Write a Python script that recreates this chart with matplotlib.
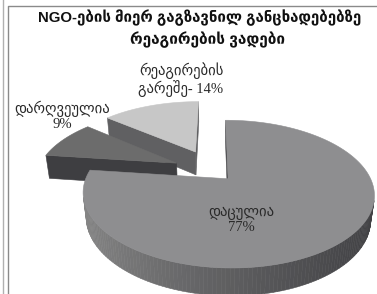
import math
import numpy as np
import matplotlib
matplotlib.use("Agg")
import matplotlib.pyplot as plt
from matplotlib.patches import Polygon

# --- data ---------------------------------------------------------------
labels = ["დაცულია", "დარღვეულია", "რეაგირების\nგარეშე"]
values = [77, 9, 14]
explode = [0.15, 0.30, 0.33]

TITLE_1 = "NGO-ების მიერ გაგზავნილ განცხადებებზე"
TITLE_2 = "რეაგირების ვადები"

# --- look ---------------------------------------------------------------
top_col = ["#8e8e90", "#6c6c6c", "#c7c7c7"]
cut_col = ["#4a4a4d", "#3e3e41", "#606062"]
side_light = ["#888888", "#4a4a4a", "#7a7a7a"]
side_dark = ["#414144", "#3a3a3a", "#5a5a5a"]

W, H = 377, 294
OX, OY = 214.0, 171.0          # screen position of pie centre (px)
F, D = 600.0, 4.31             # focal length, camera distance
EL = math.radians(29)
SA, CA = math.sin(EL), math.cos(EL)
DEPTH = 0.2
CAM = np.array([0.0, -D * CA, D * SA])


def proj(u, v, z):
    d = D + v * CA - z * SA
    return OX + F * u / d, OY - F * (v * SA + z * CA) / d


def hexmix(c1, c2, t):
    a = np.array(matplotlib.colors.to_rgb(c1))
    b = np.array(matplotlib.colors.to_rgb(c2))
    return tuple(a * (1 - t) + b * t)


def visible(p, n):
    return float(np.dot(CAM - np.array(p), np.array(n))) > 0


fig = plt.figure(figsize=(W / 100, H / 100), dpi=100)
ax = fig.add_axes([0, 0, 1, 1])
ax.set_xlim(0, W)
ax.set_ylim(H, 0)
ax.axis("off")

# frame
ax.plot([2.5, 2.5], [0, H], color="#b0b0b0", lw=1.0)
ax.plot([7.5, 7.5, W], [H, 5.5, 5.5], color="#8a8a8a", lw=1.0)

# slice geometry
total = float(sum(values))
slices = []
start = 90.0
for i, val in enumerate(values):
    sweep = val / total * 360.0
    t1, t2 = start, start - sweep
    mid = math.radians((t1 + t2) / 2)
    ou, ov = explode[i] * math.cos(mid), explode[i] * math.sin(mid)
    slices.append((i, math.radians(t1), math.radians(t2), ou, ov))
    start = t2

for i, t1, t2, ou, ov in sorted(slices, key=lambda s: -s[4]):
    faces = []
    ts = np.linspace(t1, t2, max(8, int(abs(t2 - t1) * 40)))
    # outer wall
    for a0, a1 in zip(ts[:-1], ts[1:]):
        am = (a0 + a1) / 2
        pm = (ou + math.cos(am), ov + math.sin(am), -DEPTH / 2)
        if visible(pm, (math.cos(am), math.sin(am), 0)):
            pts = [proj(ou + math.cos(a0), ov + math.sin(a0), 0),
                   proj(ou + math.cos(a1), ov + math.sin(a1), 0),
                   proj(ou + math.cos(a1), ov + math.sin(a1), -DEPTH),
                   proj(ou + math.cos(a0), ov + math.sin(a0), -DEPTH)]
            t = ((1 - math.cos(am)) / 2) ** 1.3
            col = hexmix(side_dark[i], side_light[i], t)
            faces.append((D + pm[1] * CA, pts, col))
    # radial cut faces
    for ang, n in ((t1, (-math.sin(t1), math.cos(t1), 0)),
                   (t2, (math.sin(t2), -math.cos(t2), 0))):
        pm = (ou + 0.5 * math.cos(ang), ov + 0.5 * math.sin(ang), -DEPTH / 2)
        if visible(pm, n):
            pts = [proj(ou, ov, 0),
                   proj(ou + math.cos(ang), ov + math.sin(ang), 0),
                   proj(ou + math.cos(ang), ov + math.sin(ang), -DEPTH),
                   proj(ou, ov, -DEPTH)]
            faces.append((D + pm[1] * CA, pts, cut_col[i]))
    for _, pts, col in sorted(faces, key=lambda f: -f[0]):
        ax.add_patch(Polygon(pts, closed=True, fc=col, ec=col, lw=0.4))
    top = [proj(ou, ov, 0)] + [proj(ou + math.cos(a), ov + math.sin(a), 0) for a in ts]
    ax.add_patch(Polygon(top, closed=True, fc=top_col[i], ec=top_col[i], lw=0.4))

# labels
lab_font = ["Liberation Serif", "DejaVu Sans"]
lab_kw = dict(ha="center", va="center", fontsize=10.5, family=lab_font,
              color="#2a2a2a", linespacing=1.1)
ax.text(241, 220, f"{labels[0]}\n{values[0]}%", **lab_kw)
ax.text(62, 116, f"{labels[1]}\n{values[1]}%", **lab_kw)
l3a, l3b = labels[2].split("\n")
ax.text(181, 80, f"{l3a}\n{l3b}- {values[2]}%", **lab_kw)

# title, each line fitted to the width it has in the source
title_font = ["Liberation Sans", "DejaVu Sans"]
t1 = ax.text(200, 18, TITLE_1, ha="center", va="center", fontsize=10,
             family=title_font, fontweight="bold", color="#111111")
t2 = ax.text(207, 40, TITLE_2, ha="center", va="center", fontsize=10,
             family=title_font, fontweight="bold", color="#111111")
fig.canvas.draw()
rend = fig.canvas.get_renderer()
for txt, target in ((t1, 324), (t2, 155)):
    w = txt.get_window_extent(rend).width
    txt.set_fontsize(txt.get_fontsize() * target / w)

fig.savefig("out.png", dpi=100)
